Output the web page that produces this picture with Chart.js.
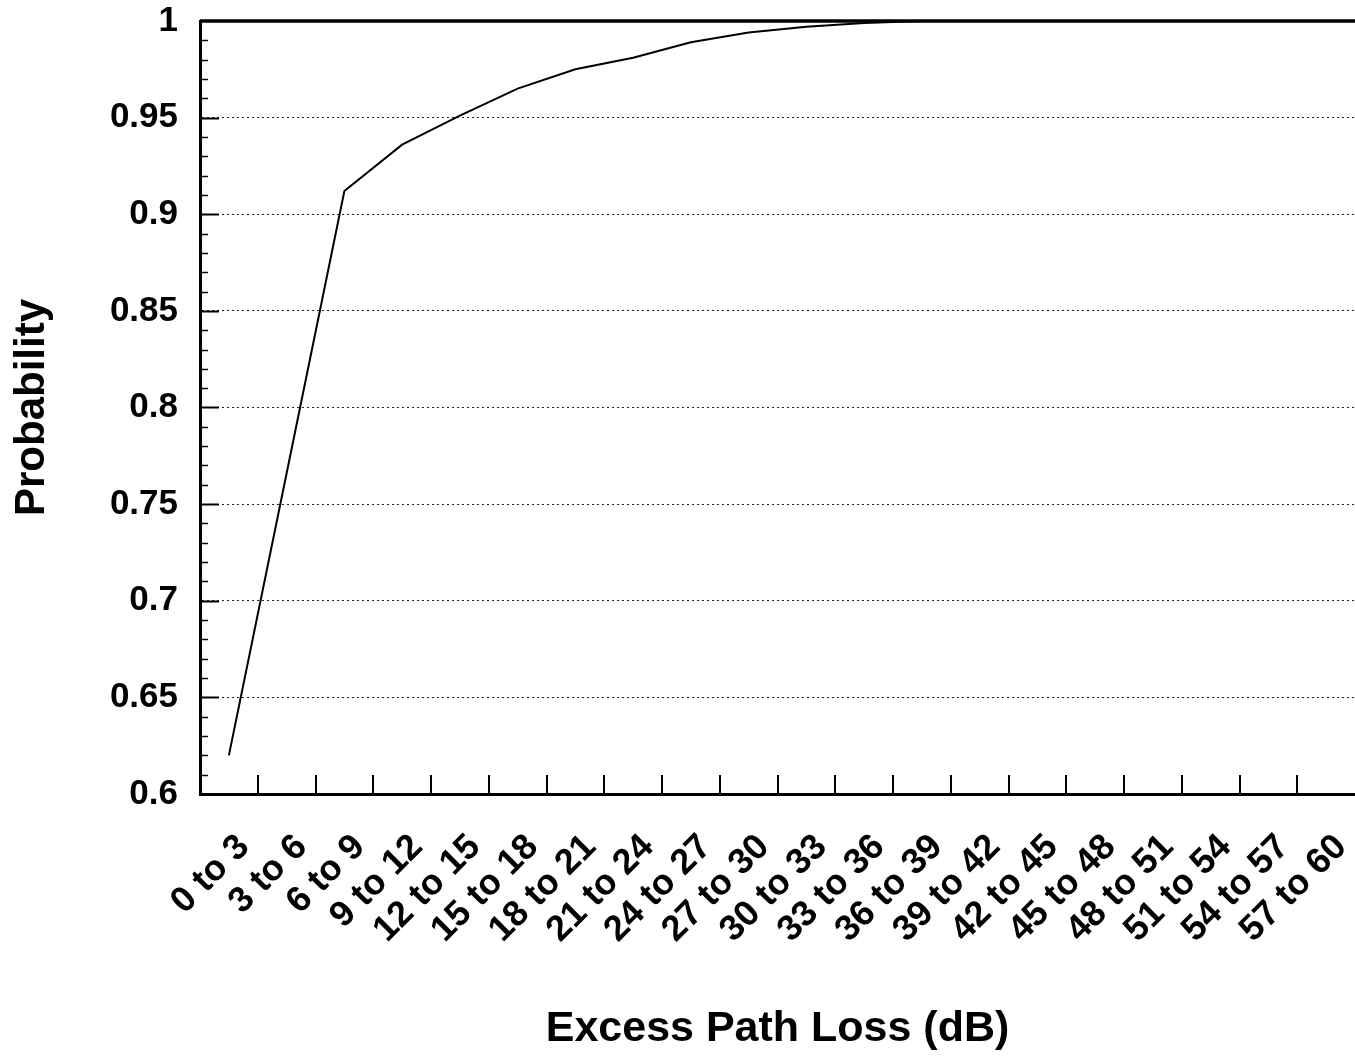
<!DOCTYPE html>
<html>
<head>
<meta charset="utf-8">
<script src="https://cdn.jsdelivr.net/npm/chart.js@4/dist/chart.umd.min.js"></script>
<style>
  html, body { margin: 0; padding: 0; background: #fff; }
</style>
</head>
<body>
<canvas id="chart" width="1355" height="1057"></canvas>
<script>
// Categories (excess path loss bins, dB)
const categories = ['0 to 3', '3 to 6', '6 to 9', '9 to 12', '12 to 15', '15 to 18', '18 to 21',
    '21 to 24', '24 to 27', '27 to 30', '30 to 33', '33 to 36', '36 to 39', '39 to 42',
    '42 to 45', '45 to 48', '48 to 51', '51 to 54', '54 to 57', '57 to 60'];

// Cumulative probability
const probability = [0.620, 0.766, 0.912, 0.936, 0.951, 0.965, 0.975, 0.981, 0.989, 0.994,
    0.997, 0.999, 1.000, 1.000, 1.000, 1.000, 1.000, 1.000, 1.000, 1.000];

const yMin = 0.6;
const yMax = 1.0;
const yStep = 0.05;
const yMinorStep = 0.01;

const FONT = '"Liberation Sans", Arial, sans-serif';

// draws the top frame line, inward tick marks and minor ticks
const framePlugin = {
    id: 'frame',
    afterDraw(chart) {
        const ctx = chart.ctx;
        const area = chart.chartArea;
        const x = chart.scales.x;
        const y = chart.scales.y;
        ctx.save();
        ctx.strokeStyle = '#000';

        // top border (the right side runs off the picture)
        ctx.lineWidth = 3.5;
        ctx.beginPath();
        ctx.moveTo(area.left, area.top);
        ctx.lineTo(area.right, area.top);
        ctx.stroke();

        // y ticks, major and minor, pointing inside
        const nMinor = Math.round((yMax - yMin) / yMinorStep);
        for (let i = 1; i < nMinor; i++) {
            const v = yMin + i * yMinorStep;
            const py = Math.round(y.getPixelForValue(v)) + 0.5;
            const major = i % 5 === 0;
            ctx.lineWidth = major ? 2 : 1.5;
            ctx.beginPath();
            ctx.moveTo(area.left, py);
            ctx.lineTo(area.left + (major ? 19 : 8), py);
            ctx.stroke();
        }

        // x ticks between categories, pointing up
        const half = (x.getPixelForValue(1) - x.getPixelForValue(0)) / 2;
        ctx.lineWidth = 2;
        for (let i = 1; i < categories.length; i++) {
            const px = Math.round(x.getPixelForValue(i) - half);
            ctx.beginPath();
            ctx.moveTo(px, area.bottom);
            ctx.lineTo(px, area.bottom - 19);
            ctx.stroke();
        }
        ctx.restore();
    }
};

new Chart(document.getElementById('chart').getContext('2d'), {
    type: 'line',
    data: {
        labels: categories,
        datasets: [{
            label: 'Probability',
            data: probability,
            borderColor: '#000',
            borderWidth: 2,
            pointRadius: 0,
            tension: 0,
            fill: false
        }]
    },
    options: {
        responsive: false,
        animation: false,
        layout: { padding: { top: 21, right: -4, bottom: 0, left: 0 } },
        plugins: {
            legend: { display: false },
            tooltip: { enabled: false }
        },
        scales: {
            x: {
                offset: true,
                grid: { display: false, drawTicks: false },
                border: { display: true, color: '#000', width: 3 },
                ticks: {
                    color: '#000',
                    font: { family: FONT, size: 36, weight: 'bold' },
                    minRotation: 45,
                    maxRotation: 45,
                    autoSkip: false,
                    padding: 32,
                    labelOffset: 15
                },
                title: {
                    display: true,
                    text: 'Excess Path Loss (dB)',
                    color: '#000',
                    font: { family: FONT, size: 43, weight: 'bold' },
                    padding: { top: 0, bottom: 2 }
                },
                afterFit(scale) {
                    scale.height = 263;
                    scale.paddingLeft = 0;
                    scale.paddingRight = 0;
                }
            },
            y: {
                min: yMin,
                max: yMax,
                grid: {
                    drawTicks: false,
                    lineWidth: 1,
                    color: c => (c.tick && (c.tick.value <= yMin + 1e-9 || c.tick.value >= yMax - 1e-9)) ? 'rgba(0,0,0,0)' : '#222'
                },
                border: { display: true, color: '#000', width: 3, dash: [2, 3] },
                ticks: {
                    stepSize: yStep,
                    color: '#000',
                    padding: 22,
                    font: { family: FONT, size: 35, weight: 'bold' },
                    callback: v => String(+v.toFixed(2))
                },
                title: {
                    display: true,
                    text: 'Probability',
                    color: '#000',
                    font: { family: FONT, size: 42, weight: 'bold' },
                    padding: { top: 7, bottom: 0 }
                },
                afterFit(scale) {
                    scale.width = 200;
                    scale.paddingTop = 0;
                    scale.paddingBottom = 0;
                }
            }
        }
    },
    plugins: [framePlugin]
});
</script>
</body>
</html>
